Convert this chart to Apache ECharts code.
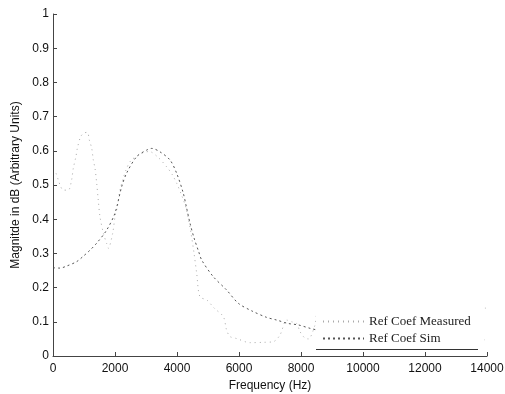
<!DOCTYPE html>
<html>
<head>
<meta charset="utf-8">
<script src="https://cdn.jsdelivr.net/npm/echarts@6/dist/echarts.min.js"></script>
<style>html,body{margin:0;padding:0;background:#fff}#c{width:505px;height:394px}</style>
</head>
<body>
<div id="c"></div>
<script>
var xTicks = [0, 2000, 4000, 6000, 8000, 10000, 12000, 14000];
var yTicks = [0, 0.1, 0.2, 0.3, 0.4, 0.5, 0.6, 0.7, 0.8, 0.9, 1];

var measFreq = [100, 170, 250, 330, 495, 600, 655, 740, 785, 890, 1000, 1110, 1170, 1250, 1300, 1355, 1410, 1460, 1516, 1625, 1730, 1785, 1925, 2000, 2075, 2160, 2250, 2355, 2500, 2800, 3100, 3400, 3667, 3850, 3990, 4150, 4300, 4450, 4550, 4635, 4740, 4960, 5200, 5495, 5600, 5710, 5925, 6355, 6800, 7110, 7320, 7540, 7700, 7860, 7970, 8130, 8240, 8450, 8600, 10000, 12000, 14000];
var measMag  = [0.534, 0.515, 0.495, 0.485, 0.485, 0.515, 0.549, 0.583, 0.607, 0.641, 0.652, 0.654, 0.632, 0.607, 0.573, 0.549, 0.505, 0.456, 0.407, 0.359, 0.329, 0.315, 0.359, 0.407, 0.437, 0.485, 0.515, 0.544, 0.57, 0.59, 0.598, 0.58, 0.553, 0.53, 0.505, 0.47, 0.43, 0.36, 0.30, 0.242, 0.173, 0.164, 0.14, 0.115, 0.076, 0.057, 0.051, 0.039, 0.04, 0.042, 0.061, 0.105, 0.1, 0.095, 0.071, 0.052, 0.05, 0.09, 0.14, 0.14, 0.14, 0.14];

var simFreq = [0, 226, 440, 765, 980, 1200, 1410, 1730, 2000, 2215, 2377, 2700, 3020, 3185, 3450, 3775, 3990, 4200, 4300, 4420, 4550, 4700, 4800, 5170, 5600, 5980, 6410, 6890, 7220, 7590, 7910, 8290, 8600, 10000, 12000, 14000];
var simMag  = [0.258, 0.257, 0.263, 0.276, 0.292, 0.31, 0.33, 0.368, 0.418, 0.495, 0.535, 0.583, 0.602, 0.607, 0.597, 0.573, 0.534, 0.477, 0.437, 0.388, 0.345, 0.305, 0.28, 0.232, 0.193, 0.154, 0.132, 0.113, 0.105, 0.095, 0.091, 0.081, 0.075, 0.065, 0.055, 0.047];

function pairs(xs, ys) { return xs.map(function (x, i) { return [x, ys[i]]; }); }

var chart = echarts.init(document.getElementById('c'));
var axisTxt = { color: '#111', fontFamily: 'Liberation Sans', fontSize: 12 };
chart.setOption({
  animation: false,
  backgroundColor: '#fff',
  grid: { left: 53, right: 18, top: 14, bottom: 38, containLabel: false, outerBoundsMode: 'none' },
  xAxis: {
    type: 'value', min: xTicks[0], max: xTicks[xTicks.length - 1], interval: 2000,
    name: 'Frequency (Hz)', nameLocation: 'middle', nameGap: 20,
    nameTextStyle: { color: '#111', fontFamily: 'Liberation Sans', fontSize: 12 },
    axisLine: { lineStyle: { color: '#444', width: 1 } },
    axisTick: { inside: true, length: 4, lineStyle: { color: '#444' } },
    axisLabel: Object.assign({ margin: 7, formatter: function (v) { return String(v); } }, axisTxt),
    splitLine: { show: false }
  },
  yAxis: {
    type: 'value', min: yTicks[0], max: yTicks[yTicks.length - 1], interval: 0.1,
    name: 'Magnitde in dB (Arbitrary Units)', nameLocation: 'middle', nameGap: 23,
    nameTextStyle: { color: '#111', fontFamily: 'Liberation Sans', fontSize: 12 },
    axisLine: { show: true, lineStyle: { color: '#444', width: 1 } },
    axisTick: { show: true, inside: true, length: 4, lineStyle: { color: '#444' } },
    axisLabel: Object.assign({ margin: 4 }, axisTxt),
    splitLine: { show: false }
  },
  legend: {
    orient: 'vertical', left: 316, top: 305, padding: [10, 14, 2, 6], z: 20,
    backgroundColor: '#fff', itemWidth: 41, itemHeight: 14, itemGap: 4,
    itemStyle: { opacity: 0 },
    textStyle: { fontFamily: 'Liberation Serif', fontSize: 13, color: '#222' },
    data: ['Ref Coef Measured', 'Ref Coef Sim']
  },
  graphic: [{
    type: 'line', z: 100, shape: { x1: 316, y1: 349.5, x2: 478, y2: 349.5 },
    style: { stroke: '#333', lineWidth: 1 }
  }],
  series: [
    {
      name: 'Ref Coef Measured', type: 'line', symbol: 'none', smooth: 0.3,
      data: pairs(measFreq, measMag),
      lineStyle: { color: '#aaa', width: 1, type: [1, 4] }, itemStyle: { color: '#aaa' }
    },
    {
      name: 'Ref Coef Sim', type: 'line', symbol: 'none', smooth: 0.3,
      data: pairs(simFreq, simMag),
      lineStyle: { color: '#555', width: 1, type: [2, 3] }, itemStyle: { color: '#555' }
    }
  ]
});
</script>
</body>
</html>
